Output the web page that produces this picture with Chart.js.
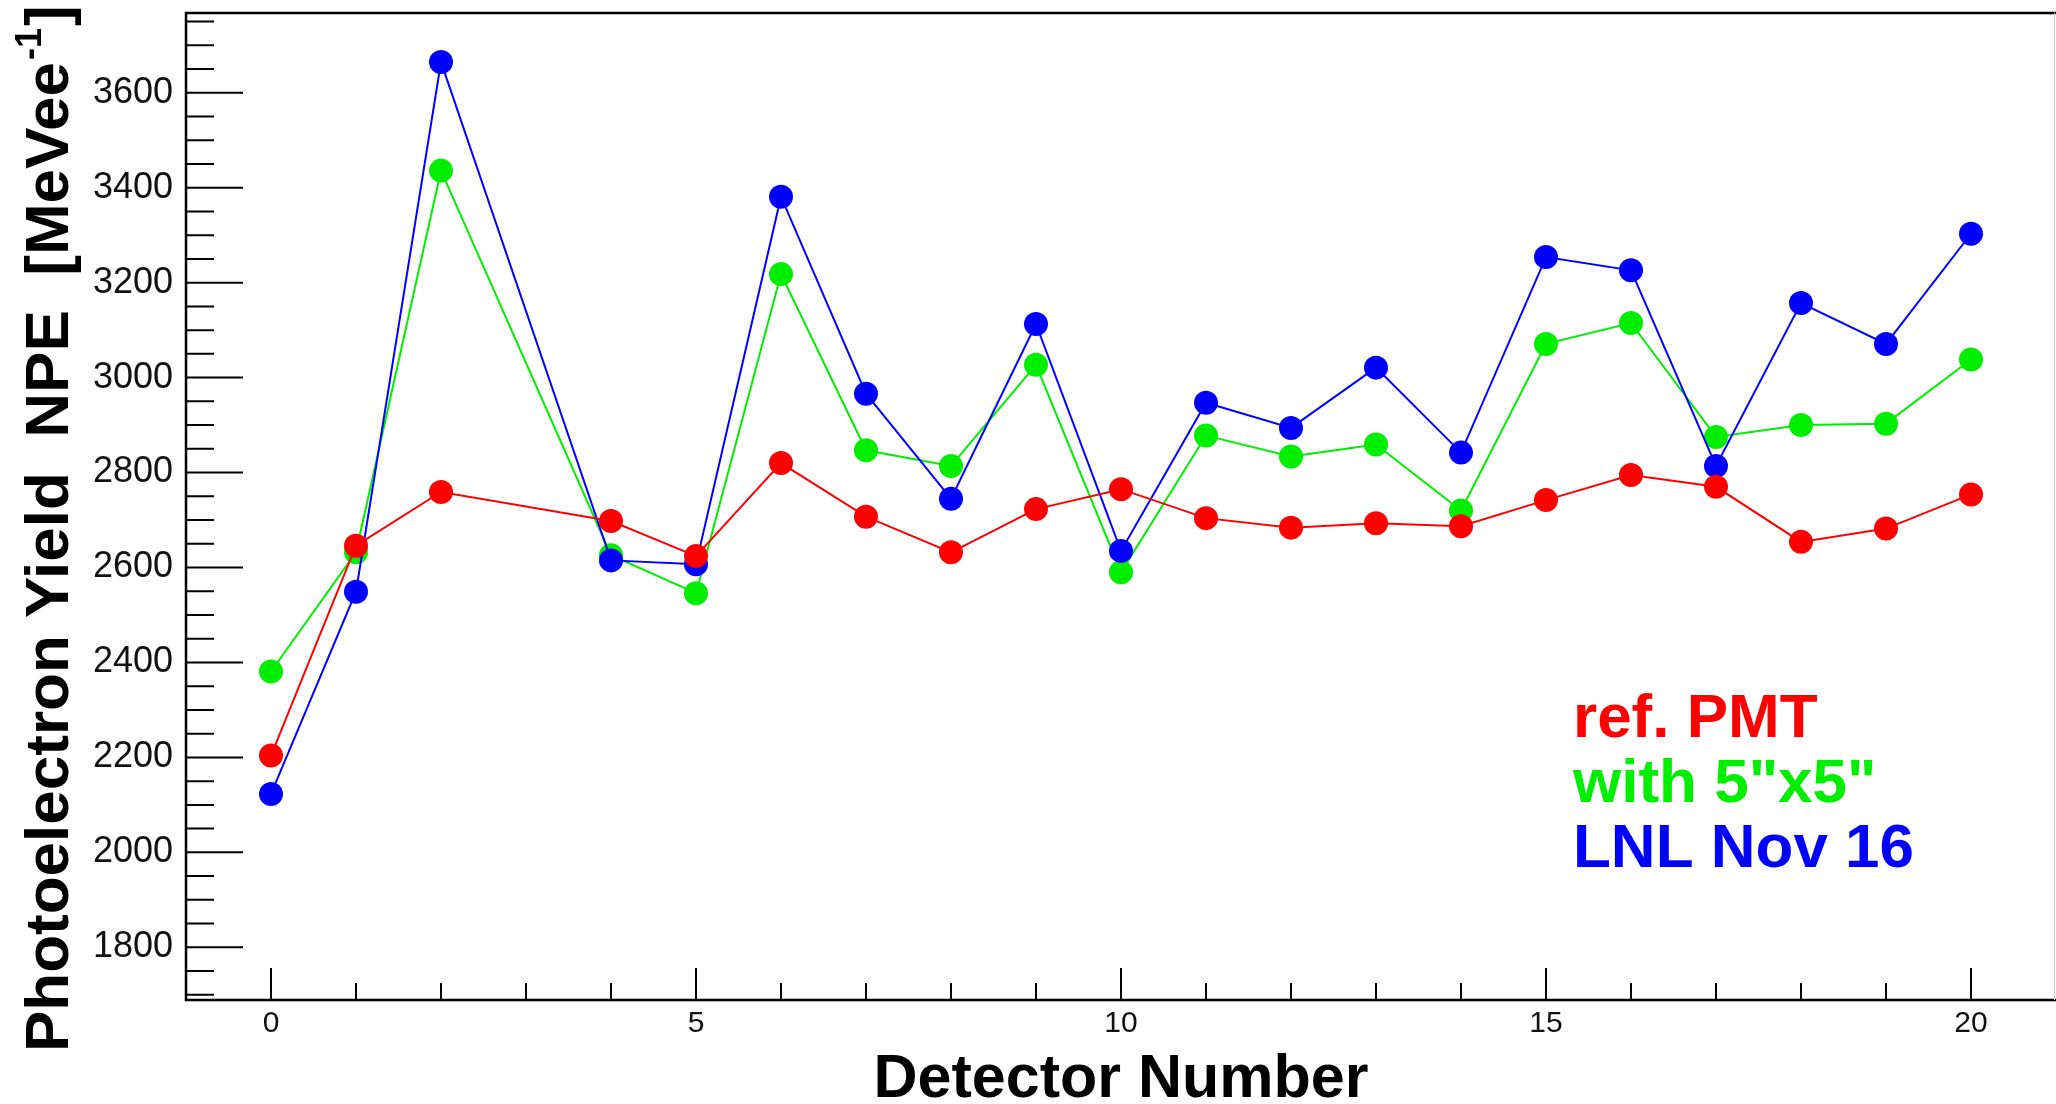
<!DOCTYPE html>
<html>
<head>
<meta charset="UTF-8">
<title>Photoelectron Yield</title>
<script src="https://cdn.jsdelivr.net/npm/chart.js@4"></script>
<style>
  body { margin:0; padding:0; background:#fff; }
  canvas { display:block; }
</style>
</head>
<body>
<canvas id="c" width="2056" height="1104"></canvas>
<script>
// detector 3 has no measurement
const detectors = [0, 1, 2, 4, 5, 6, 7, 8, 9, 10, 11, 12, 13, 14, 15, 16, 17, 18, 19, 20];
const refPMT  = [2204, 2646, 2759, 2698, 2624, 2820, 2707, 2632, 2723, 2765, 2704, 2684, 2693, 2687, 2742, 2795, 2770, 2654, 2682, 2754];
const with5x5 = [2381, 2632, 3436, 2626, 2546, 3218, 2847, 2814, 3027, 2590, 2878, 2834, 2859, 2720, 3071, 3115, 2875, 2900, 2903, 3038];
const lnlNov16 = [2123, 2549, 3665, 2615, 2607, 3381, 2966, 2745, 3113, 2635, 2947, 2894, 3021, 2842, 3254, 3226, 2814, 3157, 3071, 3303];

const xTicks = [0, 5, 10, 15, 20];
const yTicks = [1800, 2000, 2200, 2400, 2600, 2800, 3000, 3200, 3400, 3600];

const FONT = "'Liberation Sans', Arial, Helvetica, sans-serif";
const X_MIN = -1, X_MAX = 21, Y_MIN = 1689, Y_MAX = 3768;

const pts = vals => detectors.map((d, i) => ({ x: d, y: vals[i] }));

function series(label, vals, color, order) {
  return {
    label, data: pts(vals), order,
    borderColor: color, backgroundColor: color,
    borderWidth: 2, pointRadius: 12, pointBorderWidth: 0,
    pointBackgroundColor: color, tension: 0
  };
}

// ROOT style frame with inward ticks
const frameTicks = {
  id: 'frameTicks',
  beforeDatasetsDraw(chart) {
    const { ctx, chartArea: a, scales: { x, y } } = chart;
    ctx.save();
    ctx.strokeStyle = '#000';
    ctx.lineWidth = 2;
    ctx.beginPath();
    for (let v = 0; v <= 20; v++) {
      const px = x.getPixelForValue(v);
      const len = v % 5 === 0 ? 32 : 17;
      ctx.moveTo(px, a.bottom);
      ctx.lineTo(px, a.bottom - len);
    }
    for (let v = 1700; v <= 3750; v += 50) {
      const py = y.getPixelForValue(v);
      const len = v % 200 === 0 ? 57 : 28;
      ctx.moveTo(a.left, py);
      ctx.lineTo(a.left + len, py);
    }
    ctx.stroke();
    ctx.lineWidth = 2.5;
    ctx.beginPath();
    ctx.moveTo(a.right, a.top);
    ctx.lineTo(a.left, a.top);
    ctx.lineTo(a.left, a.bottom);
    ctx.lineTo(a.right, a.bottom);
    ctx.stroke();
    ctx.strokeStyle = '#ccc';
    ctx.lineWidth = 1;
    ctx.beginPath();
    ctx.moveTo(a.right - 1.5, a.top);
    ctx.lineTo(a.right - 1.5, a.bottom);
    ctx.stroke();
    ctx.restore();
  },
  afterDraw(chart) {
    const ctx = chart.ctx;
    // y axis title with superscript
    ctx.save();
    ctx.translate(68, 1052);
    ctx.rotate(-Math.PI / 2);
    ctx.fillStyle = '#000';
    ctx.textBaseline = 'alphabetic';
    ctx.textAlign = 'left';
    ctx.font = 'bold 62px ' + FONT;
    const main = 'Photoelectron Yield  NPE  [MeVee';
    ctx.fillText(main, 0, 0);
    let w = ctx.measureText(main).width;
    ctx.font = 'bold 36px ' + FONT;
    ctx.fillText('-1', w + 2, -27);
    w += ctx.measureText('-1').width + 4;
    ctx.font = 'bold 62px ' + FONT;
    ctx.fillText(']', w, 0);
    ctx.restore();

    // legend text
    ctx.save();
    ctx.font = 'bold 62px ' + FONT;
    ctx.textBaseline = 'alphabetic';
    ctx.textAlign = 'left';
    chart.data.datasets.forEach((ds, k) => {
      ctx.fillStyle = ds.borderColor;
      ctx.fillText(ds.label, 1573, 737 + k * 65);
    });
    ctx.restore();
  }
};

new Chart(document.getElementById('c'), {
  type: 'line',
  data: {
    datasets: [
      series('ref. PMT', refPMT, '#ff0000', 0),
      series('with 5"x5"', with5x5, '#00ee00', 2),
      series('LNL Nov 16', lnlNov16, '#0000ff', 1)
    ]
  },
  options: {
    responsive: false,
    animation: false,
    layout: { autoPadding: false, padding: { top: 13, right: 0, left: 0, bottom: 0 } },
    plugins: { legend: { display: false }, tooltip: { enabled: false } },
    scales: {
      x: {
        type: 'linear', min: X_MIN, max: X_MAX,
        grid: { display: false, drawTicks: false },
        border: { display: false },
        afterBuildTicks: s => { s.ticks = xTicks.map(v => ({ value: v })); },
        afterFit: s => { s.height = 104; s.paddingLeft = 0; s.paddingRight = 0; },
        ticks: { font: { family: FONT, size: 30 }, color: '#111', padding: 6, callback: v => String(v), maxRotation: 0 },
        title: {
          display: true, text: 'Detector Number', color: '#000',
          font: { family: FONT, size: 61, weight: 'bold', lineHeight: 0.78 },
          padding: 0
        }
      },
      y: {
        type: 'linear', min: Y_MIN, max: Y_MAX,
        grid: { display: false, drawTicks: false },
        border: { display: false },
        afterBuildTicks: s => { s.ticks = yTicks.map(v => ({ value: v })); },
        afterFit: s => { s.width = 186; s.paddingTop = 0; s.paddingBottom = 0; },
        ticks: { font: { family: FONT, size: 36 }, color: '#111', padding: 13, callback: v => String(v) }
      }
    }
  },
  plugins: [frameTicks]
});
</script>
</body>
</html>
